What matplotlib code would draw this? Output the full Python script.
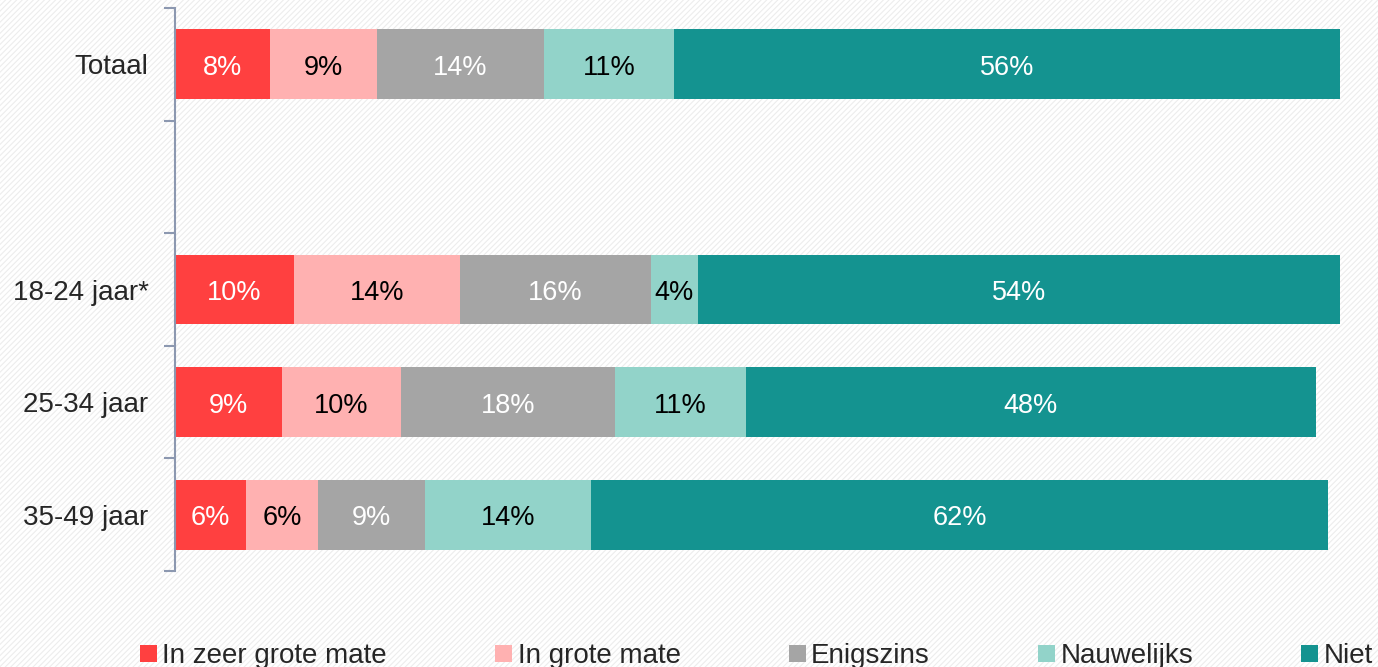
import matplotlib
matplotlib.use("Agg")
import matplotlib.pyplot as plt
from matplotlib.patches import Rectangle

plt.rcParams['font.family'] = ['Liberation Sans', 'DejaVu Sans']
plt.rcParams['hatch.linewidth'] = 0.8

categories = ['Totaal', '', '18-24 jaar*', '25-34 jaar', '35-49 jaar']
series = ['In zeer grote mate', 'In grote mate', 'Enigszins', 'Nauwelijks', 'Niet']
zeer_grote = [8, 0, 10, 9, 6]
grote = [9, 0, 14, 10, 6]
enigszins = [14, 0, 16, 18, 9]
nauwelijks = [11, 0, 4, 11, 14]
niet = [56, 0, 54, 48, 62]

values = [zeer_grote, grote, enigszins, nauwelijks, niet]
colors = ['#FF4040', '#FFB1B1', '#A5A5A5', '#92D3C9', '#149390']
text_colors = ['white', 'black', 'white', 'black', 'white']
axis_col = '#8C98B0'

fig = plt.figure(figsize=(13.78, 6.67), dpi=100)

# faint diagonal background pattern
bg = Rectangle((0, 0), 1, 1, transform=fig.transFigure, facecolor='white',
               edgecolor='#EDEDED', hatch='//////', linewidth=0, zorder=-10)
fig.patches.append(bg)

ax = fig.add_axes([175/1378, 1 - 571/667, 1165/1378, 563/667])
ax.set_facecolor('none')

ypos = list(range(len(categories)))
left = [0] * len(categories)
for vals, col, tcol, name in zip(values, colors, text_colors, series):
    bars = ax.barh(ypos, vals, left=left, height=0.62, color=col,
                   edgecolor='none', label=name)
    for b, v in zip(bars, vals):
        if v > 0:
            ax.annotate(f'{v}%', (b.get_x() + b.get_width() / 2, b.get_y() + b.get_height() / 2),
                        xytext=(0, -2.5), textcoords='offset points',
                        ha='center', va='center', color=tcol, fontsize=19.5)
    left = [l + v for l, v in zip(left, vals)]

ax.set_xlim(0, 98)
ax.set_ylim(len(categories) - 0.5, -0.5)
ax.set_xticks([])

for s in ['top', 'right', 'bottom']:
    ax.spines[s].set_visible(False)
ax.spines['left'].set_color(axis_col)
ax.spines['left'].set_linewidth(1.5)

ax.set_yticks([i - 0.5 for i in range(len(categories) + 1)])
ax.set_yticklabels([])
ax.tick_params(axis='y', which='major', length=8, width=1.5, color=axis_col)
ax.set_yticks(ypos, minor=True)
ax.set_yticklabels(categories, minor=True)
ax.tick_params(axis='y', which='minor', length=0, pad=19, labelsize=20,
               labelcolor='#262626')

fig.legend(loc='center', bbox_to_anchor=(0.549, 0.016), ncol=5, frameon=False,
           fontsize=20, handlelength=0.6, handleheight=0.6, handletextpad=0.2,
           columnspacing=3.9, borderpad=0, labelcolor='#262626')

fig.savefig('out.png', dpi=100)
